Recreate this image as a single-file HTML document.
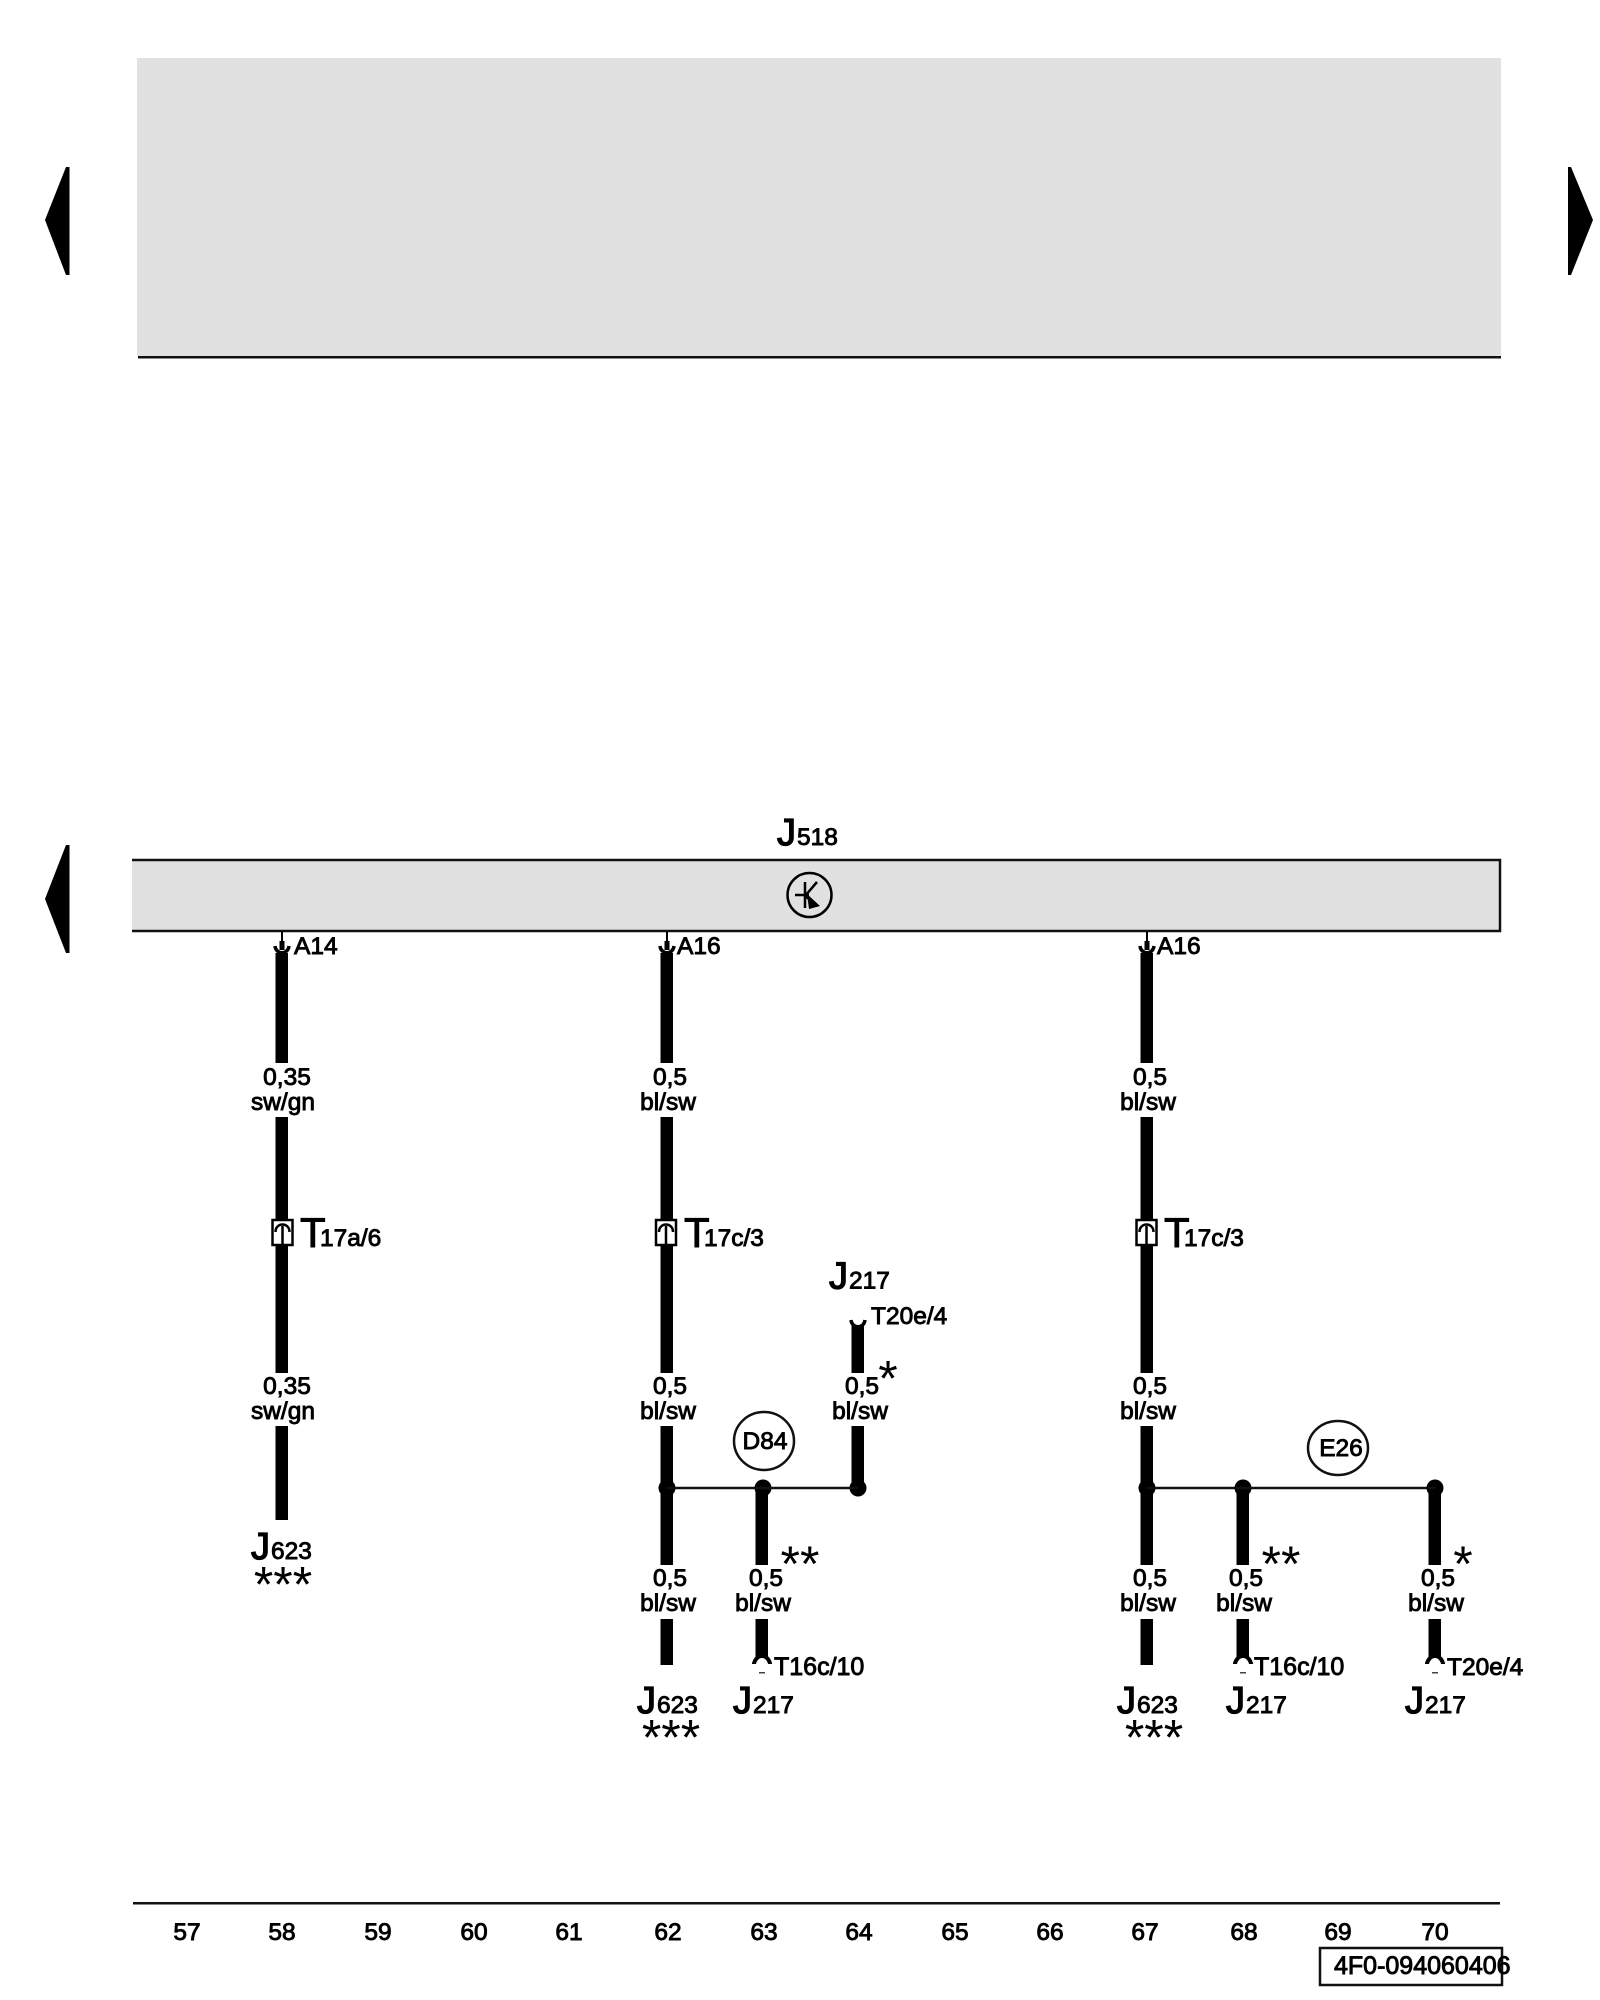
<!DOCTYPE html>
<html><head><meta charset="utf-8"><style>
html,body{margin:0;padding:0;background:#fff;width:1600px;height:2000px;overflow:hidden}
svg{display:block}
text{font-family:"Liberation Sans",sans-serif;fill:#000;stroke:#000;stroke-width:.9px}
.a{text-anchor:middle}
.s{font-size:24.500px}
.b{font-size:38px;stroke-width:1.300px}
.t{font-size:42px;stroke-width:.9px}
.x{font-size:50px;stroke:none;text-anchor:middle;letter-spacing:0}
</style></head><body>
<svg width="1600" height="2000" viewBox="0 0 1600 2000" xmlns="http://www.w3.org/2000/svg">
<rect width="1600" height="2000" fill="#fff"/>
<!-- top band -->
<rect x="137" y="58" width="1364" height="299" fill="#e1e1e1"/>
<rect x="138" y="356" width="1363" height="2.500" fill="#111"/>
<polygon points="66,167 69.500,167 69.500,275 66,275 45,220" fill="#000"/>
<polygon points="1571,167 1568,167 1568,275 1571,275 1593,220" fill="#000"/>
<polygon points="66,845 69.500,845 69.500,953 66,953 45,899" fill="#000"/>
<!-- J518 -->
<rect x="132" y="860" width="1368" height="71" fill="#e1e1e1"/>
<path d="M132 860H1500V931H132" fill="none" stroke="#111" stroke-width="2.500"/>
<circle cx="809.500" cy="895" r="22" fill="none" stroke="#000" stroke-width="2.500"/>
<path d="M795 895H809M805 882V908M817 882L805 896L818 906" fill="none" stroke="#000" stroke-width="2.500"/>
<polygon points="807,894 820,906 809,909" fill="#000"/>
<text x="777" y="845" class="b">J</text><text x="797" y="845" class="s">518</text>
<!-- wires -->
<g fill="#000">
<rect x="275.500" y="953" width="12.500" height="110"/><rect x="275.500" y="1117" width="12.500" height="256"/><rect x="275.500" y="1426" width="12.500" height="94"/>
<rect x="660.500" y="953" width="12.500" height="110"/><rect x="660.500" y="1117" width="12.500" height="256"/><rect x="660.500" y="1426" width="12.500" height="139"/><rect x="660.500" y="1619" width="12.500" height="46"/>
<rect x="755.500" y="1488" width="12.500" height="77"/><rect x="755.500" y="1619" width="12.500" height="38"/>
<rect x="851.500" y="1325" width="12.500" height="48"/><rect x="851.500" y="1426" width="12.500" height="62"/>
<rect x="1140.500" y="953" width="12.500" height="110"/><rect x="1140.500" y="1117" width="12.500" height="256"/><rect x="1140.500" y="1426" width="12.500" height="139"/><rect x="1140.500" y="1619" width="12.500" height="46"/>
<rect x="1236.500" y="1488" width="12.500" height="77"/><rect x="1236.500" y="1619" width="12.500" height="38"/>
<rect x="1428.500" y="1488" width="12.500" height="77"/><rect x="1428.500" y="1619" width="12.500" height="38"/>
<circle cx="667" cy="1488" r="8.500"/><circle cx="763" cy="1488" r="8.500"/><circle cx="858" cy="1488" r="8.500"/>
<circle cx="1147" cy="1488" r="8.500"/><circle cx="1243" cy="1488" r="8.500"/><circle cx="1435" cy="1488" r="8.500"/>
</g>
<path d="M667 1488H858M1147 1488H1435" stroke="#111" stroke-width="2.500" fill="none"/>
<ellipse cx="764" cy="1441" rx="30" ry="29" fill="#fff" stroke="#111" stroke-width="2.500"/>
<ellipse cx="1338" cy="1448" rx="30" ry="27" fill="#fff" stroke="#111" stroke-width="2.500"/>
<text x="765" y="1449" class="s a">D84</text>
<text x="1341" y="1456" class="s a">E26</text>
<!-- top connector pins -->
<g fill="none" stroke="#000">
<path d="M282 931V946" stroke-width="2"/><path d="M282 941V950" stroke-width="5"/><path d="M275 946C276 955 288 955 289 946" stroke-width="3.500"/>
<path d="M667 931V946" stroke-width="2"/><path d="M667 941V950" stroke-width="5"/><path d="M660 946C661 955 673 955 674 946" stroke-width="3.500"/>
<path d="M1147 931V946" stroke-width="2"/><path d="M1147 941V950" stroke-width="5"/><path d="M1140 946C1141 955 1153 955 1154 946" stroke-width="3.500"/>
<path d="M851 1320C852 1329 864 1329 865 1320" stroke-width="3.500"/>
</g>
<!-- bottom connector pins -->
<g>
<g fill="#fff" stroke="#000" stroke-width="4">
<path d="M753.500 1668C753.500 1652 770.500 1652 770.500 1668" />
<path d="M1234.500 1668C1234.500 1652 1251.500 1652 1251.500 1668"/>
<path d="M1426.500 1668C1426.500 1652 1443.500 1652 1443.500 1668"/>
</g>
<rect x="751" y="1664" width="22" height="8" fill="#fff"/><rect x="1232" y="1664" width="22" height="8" fill="#fff"/><rect x="1424" y="1664" width="22" height="8" fill="#fff"/>
<rect x="759" y="1672" width="6" height="1.500" fill="#444"/><rect x="1240" y="1672" width="6" height="1.500" fill="#444"/><rect x="1432" y="1672" width="6" height="1.500" fill="#444"/>
</g>
<!-- T connectors -->
<g fill="#fff" stroke="#000" stroke-width="2.500">
<rect x="272.500" y="1220" width="20" height="25"/><rect x="656" y="1220" width="20" height="25"/><rect x="1136.500" y="1220" width="20" height="25"/>
</g>
<g fill="none" stroke="#000" stroke-width="2.500">
<path d="M275.500 1232C275.500 1222 289.500 1222 289.500 1232M282.500 1226V1244"/>
<path d="M659 1232C659 1222 673 1222 673 1232M666 1226V1244"/>
<path d="M1139.500 1232C1139.500 1222 1153.500 1222 1153.500 1232M1146.500 1226V1244"/>
</g>
<!-- pin labels -->
<text x="294" y="954" class="s">A14</text><text x="677" y="954" class="s">A16</text><text x="1157" y="954" class="s">A16</text>
<text x="300" y="1247" class="t">T</text><text x="320" y="1246" class="s">17a/6</text>
<text x="684" y="1247" class="t">T</text><text x="704" y="1246" class="s">17c/3</text>
<text x="1164" y="1247" class="t">T</text><text x="1184" y="1246" class="s">17c/3</text>
<!-- wire labels -->
<g class="s a">
<text class="a s" x="287" y="1085">0,35</text><text class="a s" x="283" y="1110">sw/gn</text>
<text class="a s" x="287" y="1394">0,35</text><text class="a s" x="283" y="1419">sw/gn</text>
<text class="a s" x="670" y="1085">0,5</text><text class="a s" x="668" y="1110">bl/sw</text>
<text class="a s" x="670" y="1394">0,5</text><text class="a s" x="668" y="1419">bl/sw</text>
<text class="a s" x="670" y="1586">0,5</text><text class="a s" x="668" y="1611">bl/sw</text>
<text class="a s" x="766" y="1586">0,5</text><text class="a s" x="763" y="1611">bl/sw</text>
<text class="a s" x="862" y="1394">0,5</text><text class="a s" x="860" y="1419">bl/sw</text>
<text class="a s" x="1150" y="1085">0,5</text><text class="a s" x="1148" y="1110">bl/sw</text>
<text class="a s" x="1150" y="1394">0,5</text><text class="a s" x="1148" y="1419">bl/sw</text>
<text class="a s" x="1150" y="1586">0,5</text><text class="a s" x="1148" y="1611">bl/sw</text>
<text class="a s" x="1246" y="1586">0,5</text><text class="a s" x="1244" y="1611">bl/sw</text>
<text class="a s" x="1438" y="1586">0,5</text><text class="a s" x="1436" y="1611">bl/sw</text>
</g>
<text x="871" y="1324" class="s">T20e/4</text>
<text x="774" y="1675" style="font-size:25px">T16c/10</text>
<text x="1254" y="1675" style="font-size:25px">T16c/10</text>
<text x="1447" y="1675" class="s">T20e/4</text>
<!-- J labels -->
<text x="829" y="1288.500" class="b">J</text><text x="849" y="1288.500" class="s">217</text>
<text x="251" y="1559" class="b">J</text><text x="271" y="1559" class="s">623</text>
<text x="637" y="1713" class="b">J</text><text x="657" y="1713" class="s">623</text>
<text x="733" y="1713" class="b">J</text><text x="753" y="1713" class="s">217</text>
<text x="1117" y="1713" class="b">J</text><text x="1137" y="1713" class="s">623</text>
<text x="1226" y="1713" class="b">J</text><text x="1246" y="1713" class="s">217</text>
<text x="1405" y="1713" class="b">J</text><text x="1425" y="1713" class="s">217</text>
<!-- asterisks -->
<text x="283" y="1601.500" class="x">***</text>
<text x="671" y="1754.500" class="x">***</text>
<text x="1154" y="1754.500" class="x">***</text>
<text x="888" y="1395.500" class="x">*</text>
<text x="800" y="1581" class="x">**</text>
<text x="1281" y="1581" class="x">**</text>
<text x="1463" y="1581" class="x">*</text>
<!-- axis -->
<rect x="133" y="1902" width="1367" height="2.500" fill="#111"/>
<g class="s a">
<text class="a s" x="187" y="1940">57</text><text class="a s" x="282" y="1940">58</text><text class="a s" x="378" y="1940">59</text><text class="a s" x="474" y="1940">60</text><text class="a s" x="569" y="1940">61</text><text class="a s" x="668" y="1940">62</text><text class="a s" x="764" y="1940">63</text><text class="a s" x="859" y="1940">64</text><text class="a s" x="955" y="1940">65</text><text class="a s" x="1050" y="1940">66</text><text class="a s" x="1145" y="1940">67</text><text class="a s" x="1244" y="1940">68</text><text class="a s" x="1338" y="1940">69</text><text class="a s" x="1435" y="1940">70</text>
</g>
<rect x="1320" y="1948" width="182" height="37" fill="none" stroke="#111" stroke-width="2.500"/>
<text x="1334" y="1974" style="font-size:25px">4F0-094060406</text>
</svg>
</body></html>
